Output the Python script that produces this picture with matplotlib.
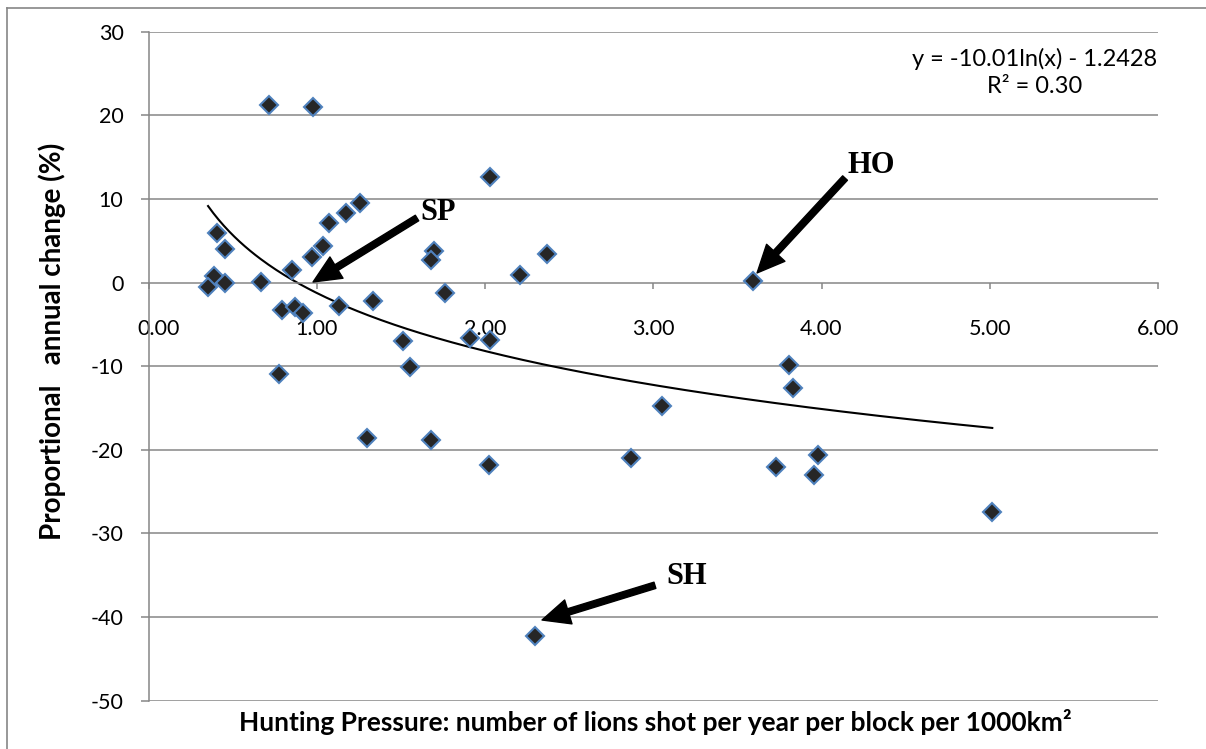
import numpy as np
import matplotlib
matplotlib.use("Agg")
import matplotlib.pyplot as plt
from matplotlib.lines import Line2D
import matplotlib.transforms as mtransforms

# hunting pressure (lions shot / yr / block / 1000km2) vs annual population change (%)
pressure = [0.716, 0.978, 2.03, 1.257, 1.174, 1.073, 0.407, 0.455, 1.037, 0.972,
            1.697, 1.679, 2.369, 2.208, 0.853, 0.389, 0.354, 0.455, 0.669, 3.593,
            0.793, 0.871, 0.918, 1.132, 1.334, 1.763, 1.513, 1.911, 2.03, 1.554,
            0.776, 3.807, 3.83, 3.052, 1.298, 1.679, 2.024, 2.868, 3.729, 3.979,
            3.956, 5.015, 2.296]
change = [21.2, 21.0, 12.6, 9.5, 8.3, 7.1, 5.9, 4.0, 4.4, 3.1,
          3.8, 2.7, 3.4, 0.9, 1.5, 0.8, -0.5, -0.05, 0.07, 0.2,
          -3.3, -2.9, -3.6, -2.8, -2.2, -1.24, -7.0, -6.6, -6.9, -10.1,
          -10.9, -9.9, -12.6, -14.8, -18.6, -18.8, -21.8, -21.0, -22.0, -20.6,
          -23.0, -27.4, -42.3]

# logarithmic trendline  y = a ln(x) + b
fit_a = -10.01
fit_b = -1.2428
fit_r2 = 0.30

# labelled blocks: name, arrow tip, arrow tail, text centre
callouts = [("SP", (0.978, 0.07), (1.596, 7.72), (1.72, 8.4)),
            ("HO", (3.617, 1.15), (4.14, 12.5), (4.296, 14.05)),
            ("SH", (2.339, -40.35), (3.01, -36.2), (3.20, -35.2))]

xticks = [0, 1, 2, 3, 4, 5, 6]
yticks = [30, 20, 10, 0, -10, -20, -30, -40, -50]

grey = "#868686"
plt.rcParams["font.family"] = ["Lato", "DejaVu Sans"]

fig = plt.figure(figsize=(12.06, 7.49), dpi=100)
ax = fig.add_axes([148.5 / 1206, 1 - 700.7 / 749, (1158 - 148.5) / 1206, (700.7 - 31.7) / 749])

# outer chart frame
fig.add_artist(Line2D([7 / 1206, 7 / 1206], [0, 1 - 8 / 749], color=grey, lw=1.2))
fig.add_artist(Line2D([7 / 1206, 1], [1 - 8 / 749, 1 - 8 / 749], color=grey, lw=1.2))

ax.set_xlim(0, 6)
ax.set_ylim(-50, 30)
for y in yticks:
    if y != 0:
        ax.axhline(y, color=grey, lw=1.1, zorder=0)

ax.spines["top"].set_visible(False)
ax.spines["right"].set_visible(False)
ax.spines["left"].set_color(grey)
ax.spines["left"].set_linewidth(1.1)
ax.spines["bottom"].set_position(("data", 0))
ax.spines["bottom"].set_color(grey)
ax.spines["bottom"].set_linewidth(1.1)

ax.set_xticks(xticks)
ax.set_xticklabels([f"{v:.2f}" for v in xticks])
ax.set_yticks(yticks)
ax.set_yticklabels([str(v) for v in yticks])
ax.tick_params(axis="y", direction="out", length=6, width=1.1, color=grey,
               pad=12, labelsize=15.5)
ax.tick_params(axis="x", direction="out", length=4, width=1.1, color=grey,
               pad=22, labelsize=15.5)
# first x label sits a little to the right of the axis
lab0 = ax.get_xticklabels()[0]
lab0.set_transform(lab0.get_transform() +
                   mtransforms.ScaledTranslation(10 / 100, 0, fig.dpi_scale_trans))

# trendline over the data range
xs = np.linspace(min(pressure), max(pressure), 300)
ax.plot(xs, fit_a * np.log(xs) + fit_b, color="black", lw=1.5, zorder=2)

ax.plot(pressure, change, linestyle="none", marker="D", ms=9.5,
        mfc="#262626", mec="#4f81bd", mew=1.5, zorder=3, clip_on=False)

for name, tip, tail, pos in callouts:
    ax.annotate("", xy=tip, xytext=tail,
                arrowprops=dict(arrowstyle="simple,head_length=1.1,head_width=1.0,tail_width=0.26",
                                mutation_scale=18, color="black", shrinkA=0, shrinkB=0),
                zorder=4)
    ax.text(pos[0], pos[1], name, fontsize=22, fontweight="bold",
            family="Liberation Serif", ha="center", va="center")

ax.text(1035 / 1206, 1 - 72.5 / 749,
        f"y = {fit_a:.2f}ln(x) - {abs(fit_b):.4f}\nR\u00b2 = {fit_r2:.2f}",
        transform=fig.transFigure, ha="center", va="center", fontsize=17,
        linespacing=1.35)

fig.text(52 / 1206, 1 - 341 / 749, "Proportional   annual change (%)",
         rotation=90, ha="center", va="center", fontsize=20, fontweight="bold")
fig.text(655 / 1206, 1 - 722 / 749,
         "Hunting Pressure: number of lions shot per year per block per 1000km\u00b2",
         ha="center", va="center", fontsize=19, fontweight="bold")

fig.savefig("out.png", dpi=100)
